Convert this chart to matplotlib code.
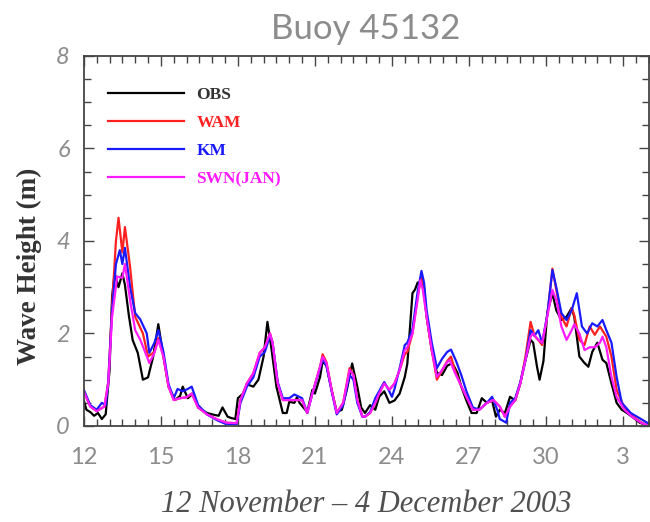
import matplotlib
matplotlib.use("Agg")
import matplotlib.pyplot as plt
from matplotlib.ticker import MultipleLocator, FixedLocator, FixedFormatter
from matplotlib.lines import Line2D

# days counted from 1 November 2003 (Dec 1 = 31)
obs_day = [12.0, 12.1, 12.25, 12.4, 12.55, 12.7, 12.85, 13.0, 13.1, 13.2, 13.35, 13.5, 13.6, 13.75, 13.9,
           14.1, 14.3, 14.5, 14.7, 14.9, 15.1, 15.3, 15.55, 15.75, 15.85, 16.05, 16.25, 16.45, 16.8, 17.0,
           17.25, 17.4, 17.6, 17.75, 17.9, 18.0, 18.2, 18.35, 18.6, 18.8, 19.0, 19.15, 19.3, 19.5, 19.75,
           19.9, 20.0, 20.2, 20.3, 20.4, 20.7, 20.9, 21.0, 21.2, 21.3, 21.45, 21.65, 21.85, 22.05, 22.25,
           22.45, 22.65, 22.8, 22.95, 23.15, 23.35, 23.5, 23.7, 23.9, 24.1, 24.3, 24.5, 24.6, 24.8, 24.9,
           25.0, 25.2, 25.35, 25.55, 25.75, 25.95, 26.15, 26.35, 26.55, 26.7, 26.9, 27.1, 27.3, 27.5, 27.7,
           27.9, 28.05, 28.2, 28.4, 28.6, 28.8, 29.0, 29.2, 29.4, 29.5, 29.65, 29.75, 29.9, 30.05, 30.25,
           30.4, 30.6, 30.8, 31.0, 31.1, 31.3, 31.5, 31.65, 31.8, 32.0, 32.2, 32.35, 32.55, 32.75, 32.95,
           33.15, 33.35, 33.65, 34.0]
obs_hs = [0.55, 0.35, 0.3, 0.22, 0.28, 0.15, 0.25, 1.2, 2.8, 3.3, 3.0, 3.3, 3.05, 2.4, 1.86,
          1.58, 1.0, 1.05, 1.5, 2.2, 1.5, 0.85, 0.56, 0.65, 0.85, 0.6, 0.7, 0.4, 0.28, 0.25,
          0.22, 0.4, 0.2, 0.17, 0.15, 0.6, 0.7, 0.9, 0.85, 1.0, 1.5, 2.25, 1.7, 0.85, 0.28,
          0.28, 0.52, 0.5, 0.62, 0.5, 0.3, 0.78, 0.7, 1.06, 1.4, 1.3, 0.78, 0.3, 0.35, 0.8,
          1.35, 0.85, 0.4, 0.28, 0.45, 0.35, 0.63, 0.75, 0.5, 0.55, 0.7, 1.06, 1.35, 2.87, 2.95,
          3.1, 3.1, 2.36, 1.64, 1.15, 1.1, 1.3, 1.36, 1.15, 0.85, 0.55, 0.28, 0.28, 0.6, 0.5,
          0.55, 0.2, 0.35, 0.28, 0.63, 0.55, 0.92, 1.42, 1.86, 1.8, 1.28, 1.0, 1.4, 2.44, 2.87,
          2.5, 2.29, 2.36, 2.55, 2.36, 1.5, 1.36, 1.28, 1.6, 1.8, 1.43, 1.36, 0.92, 0.5, 0.35,
          0.28, 0.2, 0.07, 0.0]

wam_day = [12.0, 12.25, 12.5, 12.8, 12.95, 13.1, 13.25, 13.35, 13.5, 13.6, 13.8, 14.0, 14.3, 14.5, 14.75,
           14.9, 15.1, 15.3, 15.5, 15.75, 16.0, 16.2, 16.45, 16.8, 17.2, 17.55, 17.95, 18.1, 18.35, 18.6,
           18.85, 19.05, 19.25, 19.35, 19.55, 19.75, 20.0, 20.3, 20.5, 20.7, 20.9, 21.2, 21.3, 21.45, 21.65,
           21.85, 22.1, 22.35, 22.5, 22.65, 22.85, 22.95, 23.15, 23.35, 23.5, 23.7, 23.9, 24.1, 24.3, 24.5,
           24.6, 24.8, 25.0, 25.15, 25.25, 25.35, 25.55, 25.75, 25.95, 26.15, 26.3, 26.45, 26.65, 26.9, 27.15,
           27.4, 27.7, 27.95, 28.2, 28.4, 28.6, 28.8, 29.0, 29.2, 29.4, 29.55, 29.7, 29.85, 30.05, 30.25,
           30.4, 30.6, 30.8, 31.0, 31.1, 31.3, 31.5, 31.7, 31.9, 32.1, 32.35, 32.55, 32.75, 33.05, 33.35,
           33.7, 34.0]
wam_hs = [0.75, 0.42, 0.32, 0.42, 0.95, 2.6, 4.0, 4.5, 3.75, 4.3, 3.44, 2.36, 2.0, 1.5, 1.6,
          1.9, 1.5, 0.85, 0.56, 0.6, 0.62, 0.7, 0.4, 0.25, 0.14, 0.07, 0.06, 0.56, 0.92, 1.14,
          1.58, 1.7, 2.0, 1.8, 0.92, 0.56, 0.56, 0.56, 0.56, 0.28, 0.7, 1.28, 1.55, 1.38, 0.78,
          0.28, 0.5, 1.25, 1.1, 0.56, 0.2, 0.2, 0.28, 0.5, 0.7, 0.92, 0.78, 0.92, 1.21, 1.55,
          1.6, 2.0, 2.8, 3.25, 3.0, 2.36, 1.64, 1.0, 1.2, 1.4, 1.5, 1.2, 0.92, 0.63, 0.35,
          0.35, 0.5, 0.56, 0.42, 0.2, 0.42, 0.56, 0.92, 1.5, 2.25, 1.95, 1.86, 1.75, 2.4, 3.4,
          2.94, 2.36, 2.15, 2.55, 2.4, 1.86, 1.75, 2.15, 1.97, 2.15, 1.93, 1.5, 0.78, 0.4, 0.22,
          0.08, 0.0]

km_day = [12.0, 12.25, 12.5, 12.7, 12.85, 12.95, 13.1, 13.25, 13.4, 13.5, 13.6, 13.8, 14.0, 14.2, 14.45,
          14.55, 14.75, 14.9, 15.1, 15.3, 15.5, 15.65, 15.85, 16.05, 16.2, 16.45, 16.8, 17.2, 17.5, 17.95,
          18.1, 18.35, 18.6, 18.85, 19.05, 19.25, 19.35, 19.55, 19.75, 20.0, 20.2, 20.5, 20.7, 20.9, 21.2,
          21.3, 21.45, 21.65, 21.85, 22.1, 22.35, 22.5, 22.65, 22.85, 22.95, 23.15, 23.35, 23.5, 23.7, 23.85,
          24.0, 24.1, 24.3, 24.5, 24.6, 24.8, 25.0, 25.15, 25.25, 25.35, 25.55, 25.75, 25.95, 26.15, 26.3,
          26.5, 26.7, 26.9, 27.15, 27.4, 27.7, 27.9, 28.1, 28.2, 28.45, 28.6, 28.8, 29.0, 29.2, 29.4,
          29.55, 29.7, 29.85, 30.05, 30.25, 30.4, 30.6, 30.8, 31.0, 31.2, 31.4, 31.6, 31.8, 32.0, 32.2,
          32.35, 32.55, 32.75, 32.95, 33.3, 33.7, 34.0]
km_hs = [0.78, 0.45, 0.35, 0.5, 0.45, 0.95, 2.5, 3.5, 3.8, 3.5, 3.85, 3.0, 2.44, 2.3, 2.0,
         1.58, 1.8, 2.07, 1.6, 0.9, 0.6, 0.8, 0.75, 0.8, 0.85, 0.45, 0.25, 0.12, 0.05, 0.03,
         0.5, 0.85, 1.05, 1.5, 1.6, 1.95, 1.8, 0.95, 0.6, 0.6, 0.68, 0.6, 0.28, 0.7, 1.25,
         1.45, 1.3, 0.75, 0.25, 0.45, 1.1, 1.0, 0.5, 0.2, 0.2, 0.3, 0.6, 0.75, 0.95, 0.8,
         0.63, 0.8, 1.25, 1.75, 1.8, 2.1, 2.9, 3.35, 3.1, 2.5, 1.8, 1.25, 1.45, 1.6, 1.65,
         1.4, 1.1, 0.75, 0.4, 0.35, 0.5, 0.63, 0.35, 0.15, 0.07, 0.5, 0.6, 0.95, 1.42, 2.07,
         1.95, 2.07, 1.8, 2.4, 3.37, 3.0, 2.44, 2.29, 2.5, 2.87, 2.15, 2.0, 2.22, 2.15, 2.29,
         2.07, 1.8, 1.06, 0.5, 0.28, 0.15, 0.05]

swn_day = [12.0, 12.25, 12.5, 12.8, 12.95, 13.1, 13.3, 13.5, 13.6, 13.8, 14.0, 14.2, 14.4, 14.55, 14.75,
           14.9, 15.1, 15.3, 15.5, 15.75, 16.0, 16.2, 16.45, 16.8, 17.2, 17.55, 17.95, 18.1, 18.35, 18.6,
           18.85, 19.05, 19.25, 19.35, 19.55, 19.75, 20.0, 20.3, 20.5, 20.7, 20.9, 21.2, 21.3, 21.45, 21.65,
           21.85, 22.1, 22.35, 22.5, 22.65, 22.85, 22.95, 23.15, 23.35, 23.5, 23.7, 23.9, 24.1, 24.3, 24.5,
           24.6, 24.8, 25.0, 25.1, 25.2, 25.35, 25.55, 25.75, 25.95, 26.15, 26.25, 26.45, 26.65, 26.9, 27.15,
           27.4, 27.7, 27.95, 28.2, 28.4, 28.6, 28.8, 29.0, 29.2, 29.4, 29.5, 29.7, 29.85, 30.05, 30.25,
           30.4, 30.6, 30.8, 31.0, 31.1, 31.3, 31.5, 31.7, 31.9, 32.1, 32.2, 32.35, 32.55, 32.75, 33.05,
           33.35, 33.7, 34.0]
swn_hs = [0.74, 0.42, 0.32, 0.42, 0.92, 2.36, 3.23, 3.2, 3.5, 2.72, 2.07, 1.86, 1.58, 1.36, 1.58,
          1.86, 1.5, 0.85, 0.56, 0.6, 0.62, 0.7, 0.4, 0.25, 0.14, 0.07, 0.06, 0.56, 0.92, 1.14,
          1.58, 1.7, 2.0, 1.8, 0.92, 0.56, 0.56, 0.56, 0.56, 0.28, 0.7, 1.28, 1.5, 1.36, 0.78,
          0.28, 0.5, 1.21, 1.1, 0.56, 0.2, 0.2, 0.28, 0.5, 0.7, 0.92, 0.78, 0.92, 1.21, 1.64,
          1.7, 2.0, 2.72, 3.15, 2.95, 2.36, 1.64, 1.06, 1.21, 1.38, 1.42, 1.15, 0.92, 0.63, 0.35,
          0.35, 0.5, 0.56, 0.42, 0.2, 0.42, 0.56, 0.92, 1.42, 1.93, 2.0, 1.86, 1.8, 2.36, 2.94,
          2.72, 2.15, 1.86, 2.07, 2.2, 2.0, 1.64, 1.7, 1.7, 1.8, 1.93, 1.7, 1.06, 0.63, 0.35,
          0.2, 0.07, 0.0]

tick_days = [12, 15, 18, 21, 24, 27, 30, 33]
tick_labels = ["12", "15", "18", "21", "24", "27", "30", "3"]
names = ["OBS", "WAM", "KM", "SWN(JAN)"]
colors = ["black", "#ff2020", "#1a1aff", "#ff1aff"]

fig = plt.figure(figsize=(6.5, 5.22), dpi=100)
ax = fig.add_axes([0.129, 0.184, 0.869, 0.709])

series = [(obs_day, obs_hs), (wam_day, wam_hs), (km_day, km_hs), (swn_day, swn_hs)]
for (d, h), c in zip(series, colors):
    ax.plot(d, h, color=c, lw=1.6)

ax.set_xlim(12, 34)
ax.set_ylim(0, 8)

thin = dict(family=["Lato", "DejaVu Sans"], weight="normal", color="#8c8c8c")
ax.xaxis.set_major_locator(FixedLocator(tick_days))
ax.xaxis.set_major_formatter(FixedFormatter(tick_labels))
ax.xaxis.set_minor_locator(MultipleLocator(0.5))
ax.yaxis.set_major_locator(MultipleLocator(2))
ax.yaxis.set_minor_locator(MultipleLocator(0.5))
ax.tick_params(which="both", direction="in", top=True, right=True, color="#444444", width=1)
ax.tick_params(which="major", length=7)
ax.tick_params(which="minor", length=5)
ax.tick_params(axis="x", pad=15)
ax.tick_params(axis="y", pad=10)
for lab in ax.get_xticklabels():
    lab.set(fontsize=17, **thin)
for lab in ax.get_yticklabels():
    lab.set(fontsize=17, style="italic", **thin)
for sp in ax.spines.values():
    sp.set_color("#444444")
    sp.set_linewidth(1.3)

ax.set_ylabel("Wave Height (m)", family="Liberation Serif", weight="bold",
              fontsize=19.5, color="#333333")
ax.yaxis.set_label_coords(-0.074, 0.432)
ax.set_xlabel("12 November \u2013 4 December 2003", family="Liberation Serif",
              style="italic", fontsize=22, color="#505050", labelpad=16)
fig.text(0.562, 0.945, "Buoy 45132", ha="center", va="center", fontsize=25, **thin)

handles = [Line2D([], [], color=c, lw=1.6) for c in colors]
leg = ax.legend(handles, names, loc="upper left", bbox_to_anchor=(0.0425, 0.915),
                frameon=False, prop=dict(family="Liberation Serif", weight="bold", size=12.5),
                handlelength=4.4, handletextpad=0.7, labelspacing=0.68, borderpad=0, borderaxespad=0)
for t, c in zip(leg.get_texts(), colors):
    t.set_color("#333333" if c == "black" else c)

fig.savefig("out.png", dpi=100)
